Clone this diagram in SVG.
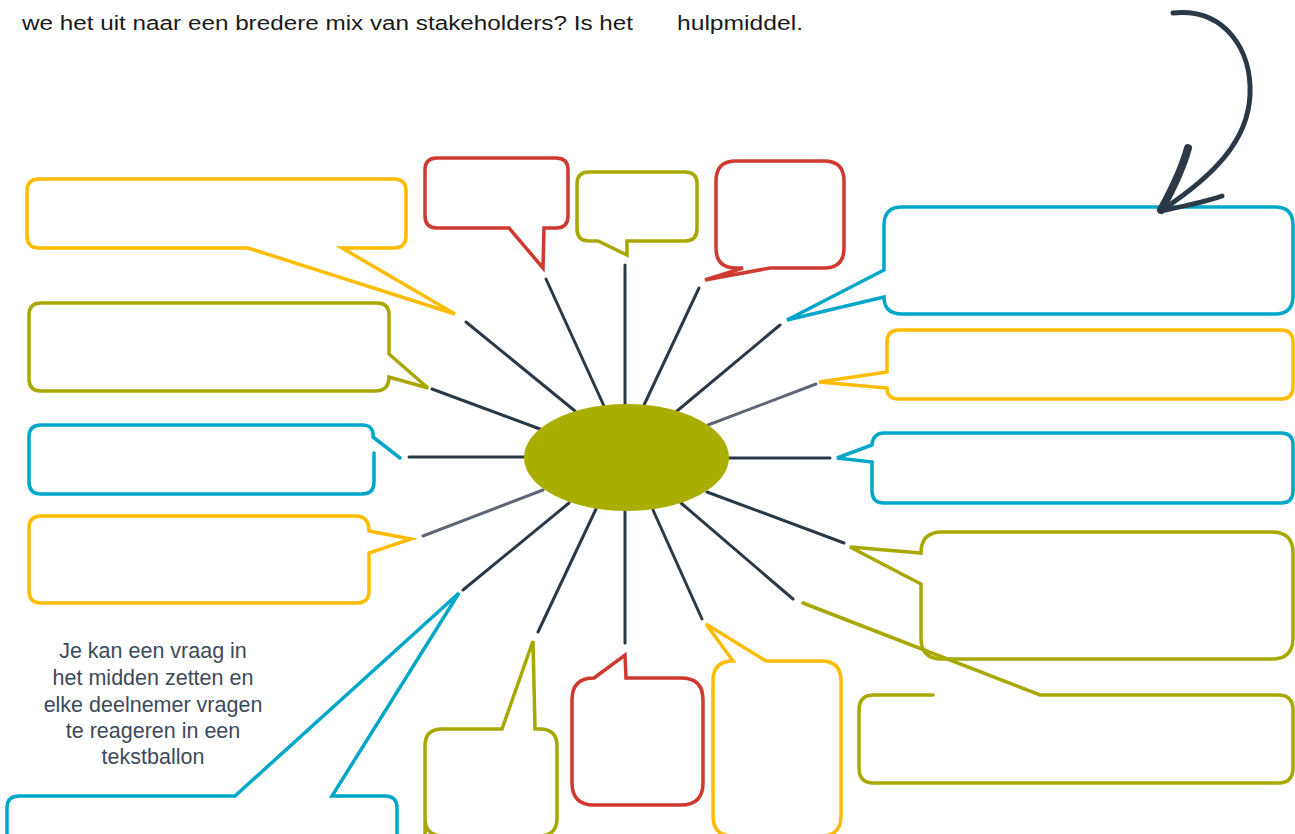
<svg xmlns="http://www.w3.org/2000/svg" width="1295" height="834" viewBox="0 0 1295 834">
<style>
.b{fill:#fff;stroke-width:3.5;stroke-linejoin:miter;stroke-linecap:round}
.o{fill:none}
.y{stroke:#FFBC00}.g{stroke:#A7A900}.bl{stroke:#00A7C9}.r{stroke:#CE3A30}
.sp{stroke:#2B3846;stroke-width:3;stroke-linecap:round}
.sg{stroke:#5F6776;stroke-width:3;stroke-linecap:round}
.t{font-family:"Liberation Sans",Arial,sans-serif}
</style>
<rect width="1295" height="834" fill="#fff"/>
<text class="t" x="22" y="30" font-size="20" fill="#1a1a1a" textLength="611" lengthAdjust="spacingAndGlyphs">we het uit naar een bredere mix van stakeholders? Is het</text>
<text class="t" x="677" y="30" font-size="20" fill="#1a1a1a" textLength="126" lengthAdjust="spacingAndGlyphs">hulpmiddel.</text>
<g id="connectors">
<line class="sp" x1="466" y1="322" x2="575" y2="411"/>
<line class="sp" x1="432" y1="389" x2="540" y2="429"/>
<line class="sp" x1="409" y1="457" x2="524" y2="457"/>
<line class="sg" x1="423" y1="536" x2="543" y2="490"/>
<line class="sp" x1="463" y1="590" x2="569" y2="503"/>
<line class="sp" x1="538" y1="632" x2="596" y2="509"/>
<line class="sp" x1="625" y1="643" x2="625" y2="511"/>
<line class="sp" x1="702" y1="619" x2="653" y2="510"/>
<line class="sp" x1="793" y1="599" x2="681" y2="503"/>
<line class="sp" x1="844" y1="543" x2="707" y2="492"/>
<line class="sp" x1="729" y1="458" x2="830" y2="458"/>
<line class="sg" x1="708" y1="425" x2="816" y2="384"/>
<line class="sp" x1="677" y1="411" x2="780" y2="325"/>
<line class="sp" x1="644" y1="405" x2="699" y2="288"/>
<line class="sp" x1="625" y1="405" x2="625" y2="265"/>
<line class="sp" x1="604" y1="406" x2="546" y2="279"/>
</g>
<g id="center"><ellipse cx="626.5" cy="457.5" rx="102.5" ry="53.5" fill="#AAAE00"/></g>
<g id="bubble1"><path class="b y" d="M39,179 H394 Q406,179 406,191 V236 Q406,248 394,248 H342 L455,314 L248,248 H39 Q27,248 27,236 V191 Q27,179 39,179 Z"/></g>
<g id="bubble2"><path class="b g" d="M41,303 H377 Q389,303 389,315 V354 L428,388 L389,377 Q389,391 375,391 H41 Q29,391 29,379 V315 Q29,303 41,303 Z"/></g>
<g id="bubble3"><path class="b bl o" d="M373,437 Q374,425 362,425 H41 Q29,425 29,437 V482 Q29,494 41,494 H362 Q374,494 374,482 V453 M373,437 L400,458"/></g>
<g id="bubble4"><path class="b y" d="M41,516 H355 Q369,516 369,531 L411,539 L369,553 V591 Q369,603 357,603 H41 Q29,603 29,591 V528 Q29,516 41,516 Z"/></g>
<g id="bubble5"><path class="b bl" d="M7,850 V808 Q7,796 19,796 H235 L459,593 L332,796 H385 Q397,796 397,808 V850"/></g>
<g id="bubble6"><path class="b g" d="M425,836 V746 Q425,729 442,729 H502 L533,641 L535,729 H540 Q557,729 557,746 V818 Q557,836 539,836 H443 Q425,836 425,818 Z"/></g>
<g id="bubble7"><path class="b r" d="M594,678 L625,655 L626,678 H681 Q703,678 703,700 V783 Q703,805 681,805 H594 Q572,805 572,783 V700 Q572,678 594,678 Z"/></g>
<g id="bubble8"><path class="b y" d="M733,661 L706,624 L766,661 H821 Q841,661 841,681 V816 Q841,836 821,836 H733 Q713,836 713,816 V681 Q713,661 733,661 Z"/></g>
<g id="bubble9"><path class="b g" d="M942,532 H1272 Q1293,532 1293,553 V638 Q1293,659 1272,659 H942 Q921,659 921,638 V584 L850,547 L921,553 Q921,532 942,532 Z"/></g>
<g id="bubble10"><path class="b g o" d="M933,695 H874 Q859,695 859,710 V768 Q859,783 874,783 H1278 Q1293,783 1293,768 V710 Q1293,695 1278,695 H1040 L803,603"/></g>
<g id="bubble11"><path class="b bl" d="M902,207 H1275 Q1293,207 1293,225 V296 Q1293,314 1275,314 H902 Q884,314 884,297 L787,320 L884,270 V225 Q884,207 902,207 Z"/></g>
<g id="bubble12"><path class="b y" d="M899,330 H1281 Q1293,330 1293,342 V387 Q1293,399 1281,399 H899 Q887,399 887,388 L819,382 L887,372 V342 Q887,330 899,330 Z"/></g>
<g id="bubble13"><path class="b bl" d="M884,433 H1281 Q1293,433 1293,445 V491 Q1293,503 1281,503 H884 Q872,503 872,491 V462 L837,458 L872,445 Q873,433 884,433 Z"/></g>
<g id="bubble14"><path class="b r" d="M437,158 H556 Q568,158 568,170 V216 Q568,228 556,228 H544 L543,268 L509,228 H437 Q425,228 425,216 V170 Q425,158 437,158 Z"/></g>
<g id="bubble15"><path class="b g" d="M589,172 H685 Q697,172 697,184 V229 Q697,241 685,241 H627 L627,255 L598,241 H589 Q577,241 577,229 V184 Q577,172 589,172 Z"/></g>
<g id="bubble16"><path class="b r" d="M736,161 H824 Q844,161 844,181 V248 Q844,268 824,268 H770 L705,280 L743,268 H736 Q716,268 716,248 V181 Q716,161 736,161 Z"/></g>
<g id="arrow" fill="none" stroke="#2B3846" stroke-linecap="round">
<path d="M1173,13 C1225,8 1252,50 1250,95 C1248,140 1215,175 1162,210" stroke-width="5"/>
<path d="M1188,148 C1182,170 1172,190 1161,210" stroke-width="8"/>
<path d="M1161,211 C1185,206 1205,202 1222,196" stroke-width="5"/>
</g>
<g id="note" class="t" font-size="21.5" fill="#3D4A5A" text-anchor="middle">
<text x="153" y="658">Je kan een vraag in</text>
<text x="153" y="685">het midden zetten en</text>
<text x="153" y="712">elke deelnemer vragen</text>
<text x="153" y="738">te reageren in een</text>
<text x="153" y="764">tekstballon</text>
</g>
</svg>
